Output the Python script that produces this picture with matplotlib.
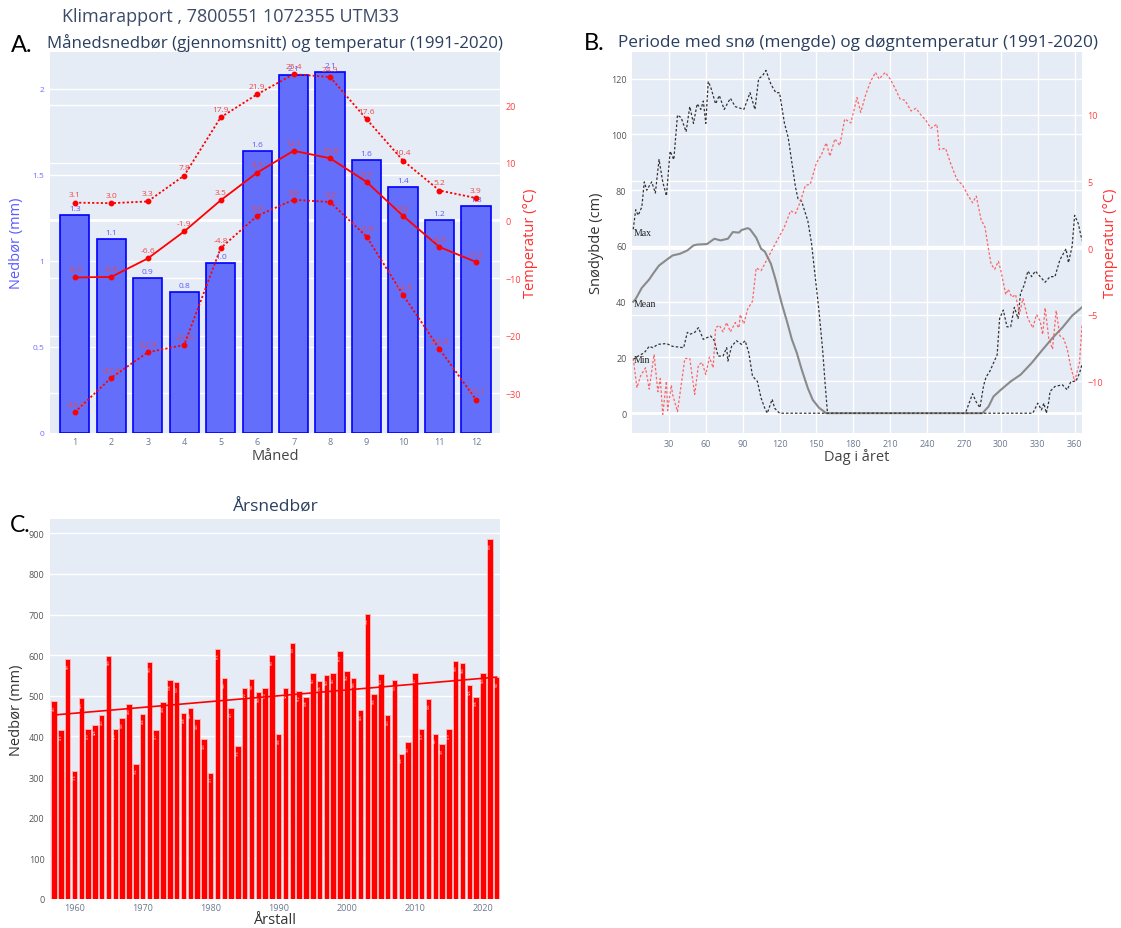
import matplotlib.pyplot as plt
from matplotlib.transforms import blended_transform_factory
import numpy as np

plt.rcParams['font.family'] = ['Open Sans', 'DejaVu Sans']

# ---- A: månedsnedbør og temperatur (1991-2020) ----
maaned = list(range(1, 13))
nedbor_mnd = [1.27, 1.13, 0.90, 0.82, 0.99, 1.64, 2.08, 2.10, 1.59, 1.43, 1.24, 1.32]
temp_snitt = [-9.9, -9.8, -6.6, -1.9, 3.5, 8.3, 12.1, 10.8, 6.7, 0.8, -4.6, -7.2]
temp_maks = [3.1, 3.0, 3.3, 7.8, 17.9, 21.9, 25.4, 24.9, 17.6, 10.4, 5.2, 3.9]
temp_min = [-33.3, -27.3, -22.9, -21.6, -4.8, 0.8, 3.6, 3.2, -2.8, -12.9, -22.3, -31.1]

# ---- B: snødybde (dag, cm) og døgntemperatur (dag, grader) ----
sno_maks = [(1, 66), (3, 73), (5, 71), (8, 74), (10, 83), (12, 80), (16, 83), (19, 79),
            (22, 91), (25, 83), (28, 78), (31, 94), (34, 91), (37, 107), (40, 106), (44, 101),
            (47, 110), (50, 104), (53, 111), (56, 109), (58, 112), (60, 104), (62, 119),
            (64, 117), (68, 111), (71, 114), (75, 109), (80, 113), (84, 110), (91, 109),
            (96, 115), (100, 109), (103, 120), (106, 121), (109, 123), (113, 118), (117, 115),
            (120, 115), (124, 104), (127, 99), (130, 90), (133, 81), (135, 77), (138, 76),
            (143, 69), (146, 61), (150, 45), (152, 37), (155, 23), (157, 11), (159, 0),
            (271, 0), (272, 1), (277, 7), (280, 4), (283, 2), (286, 10), (288, 13), (291, 15),
            (294, 18), (297, 21), (299, 34), (302, 37), (305, 31), (308, 31), (311, 38),
            (314, 34), (316, 43), (319, 46), (322, 51), (325, 49), (328, 51), (332, 49),
            (336, 47), (340, 49), (344, 49), (348, 55), (353, 59), (355, 54), (358, 60),
            (360, 71), (363, 68), (366, 62)]
sno_snitt = [(1, 40), (3, 41), (8, 45), (14, 48), (18, 50.6), (22, 53), (28, 55), (33, 56.6),
             (39, 57.2), (45, 58.4), (50, 60.2), (53, 60.5), (61, 60.7), (67, 62.6), (72, 62),
             (78, 62.6), (82, 65), (87, 64.8), (89, 65.7), (94, 66.4), (96, 66), (101, 63),
             (105, 59), (108, 58), (113, 53.6), (117, 47.6), (122, 39), (126, 33), (130, 26.5),
             (134, 21.7), (138, 15.7), (143, 9), (147, 4.8), (152, 2), (158, 0), (285, 0),
             (290, 2.4), (294, 6), (300, 8.4), (308, 11.4), (316, 13.8), (325, 18), (333, 22.3),
             (342, 27), (350, 30.7), (358, 35), (366, 38)]
sno_min = [(1, 19.3), (5, 20.5), (10, 21.7), (14, 24), (17, 23.5), (21, 24.7), (28, 25),
           (33, 24), (42, 23.5), (45, 29), (47, 28.3), (51, 29), (54, 30.7), (58, 26.5),
           (64, 27.7), (67, 26), (70, 20.5), (74, 20.5), (77, 23.5), (78, 18.7), (81, 24),
           (85, 26), (89, 24.7), (92, 26), (95, 21.7), (98, 13.3), (102, 11.4), (105, 5.4),
           (108, 1.8), (110, 0), (114, 5), (116, 1.8), (120, 0), (326, 0), (330, 3.6),
           (333, 1.2), (335, 3.6), (337, 0), (339, 4.2), (340, 7.8), (344, 9.6), (350, 10.2),
           (354, 8.4), (357, 11.4), (361, 11.4), (364, 14.4), (366, 17.5)]
dogn_temp = [(1, -8.3), (4, -10.5), (7, -9.6), (11, -9), (14, -10.6), (17, -8.6), (18, -8),
             (21, -10.8), (23, -9.8), (25, -12.5), (28, -10), (29, -12.2), (32, -10.3),
             (33, -11), (37, -12.3), (40, -10.3), (43, -8.3), (47, -8.3), (51, -11), (54, -8.8),
             (57, -8.6), (60, -9.5), (63, -8.2), (66, -9), (68, -6), (71, -5.8), (74, -6.3),
             (77, -5.6), (80, -6.3), (84, -5.6), (87, -6), (88, -5), (91, -5.7), (94, -4.6),
             (98, -4), (101, -1.5), (105, -1.7), (109, -1), (113, -0.3), (117, 0.4), (120, 0.9),
             (124, 1.6), (129, 2.8), (133, 2.6), (137, 3.5), (141, 4.7), (145, 4.8), (150, 6.4),
             (154, 7), (158, 7.9), (161, 6.9), (165, 8.2), (169, 7.7), (173, 9.7), (178, 9.4),
             (183, 11.3), (186, 10.2), (190, 11.5), (194, 12.5), (198, 13.2), (201, 12.7),
             (206, 13.2), (210, 12.7), (214, 12), (218, 11.2), (222, 11.1), (227, 10.3),
             (231, 10.5), (235, 10), (239, 9.6), (243, 9), (248, 9.3), (250, 7.4), (255, 7.5),
             (259, 6.4), (264, 5.2), (269, 4.7), (273, 4), (277, 3.4), (280, 3.9), (284, 2.1),
             (287, 1.6), (290, -0.1), (292, -1.2), (295, -1.6), (298, -1), (300, -1.7),
             (304, -3.5), (306, -3.1), (309, -3.7), (312, -3.5), (315, -5), (318, -3.8),
             (322, -5.3), (326, -6), (329, -5), (332, -5.5), (334, -6.5), (336, -4.5),
             (339, -6.8), (342, -7.6), (345, -4.7), (348, -6.6), (351, -6.8), (354, -7.6),
             (357, -9), (360, -10), (362, -9.3), (364, -8.6), (366, -5.8)]

# ---- C: årsnedbør ----
aar = list(range(1957, 2023))
aarsnedbor = [487, 415, 591, 316, 495, 419, 428, 453, 599, 419,
              445, 480, 332, 456, 583, 417, 484, 538, 533, 458,
              469, 443, 393, 311, 616, 543, 471, 376, 520, 541,
              509, 520, 601, 406, 520, 631, 512, 498, 557, 536,
              550, 557, 610, 562, 545, 465, 702, 505, 553, 453,
              539, 358, 387, 557, 419, 492, 407, 381, 419, 585,
              580, 526, 498, 555, 886, 547]

W, H = 1121, 929
BG = '#e5ecf6'
TITLE = '#2a3f5f'
RED = '#ff0000'
DOT = (0, (1.2, 1.2))

fig = plt.figure(figsize=(W / 100, H / 100), dpi=100)


def px_axes(l, t, r, b):
    return fig.add_axes([l / W, 1 - b / H, (r - l) / W, (b - t) / H])


def ftext(x, y, s, **kw):
    fig.text(x / W, 1 - y / H, s, **kw)


def clean(ax):
    for s in ax.spines.values():
        s.set_visible(False)
    ax.tick_params(length=0)


def hgrid(ax, src, vals):
    tr = blended_transform_factory(ax.transAxes, src.transData)
    for v in vals:
        ax.plot([0, 1], [v, v], transform=tr, color='white', lw=2 if v == 0 else 1, zorder=0.5)


def minus(vals):
    return [str(v).replace('-', '\u2212') for v in vals]


# header texts
ftext(62, 17, 'Klimarapport , 7800551 1072355 UTM33', fontsize=13, color='#3b4a66', va='center')
ftext(11, 45, 'A.', fontsize=17, family=['Lato', 'DejaVu Sans'], va='center')
ftext(47, 43, 'Månedsnedbør (gjennomsnitt) og temperatur (1991-2020)', fontsize=12.2, color=TITLE, va='center')
ftext(584, 43, 'B.', fontsize=17, family=['Lato', 'DejaVu Sans'], va='center')
ftext(618, 43, 'Periode med snø (mengde) og døgntemperatur (1991-2020)', fontsize=12.4, color=TITLE, va='center')
ftext(10, 526, 'C.', fontsize=16.5, family=['Lato', 'DejaVu Sans'], va='center')
ftext(276, 508, 'Årsnedbør', fontsize=12.5, color=TITLE, va='center', ha='center')

# ---------------- A ----------------
axA = px_axes(50, 53, 500, 434)
axA.set_facecolor(BG)
clean(axA)
axA.set_xlim(0.32, 12.66)
axA.set_ylim(0, 2.215)
axA2 = axA.twinx()
clean(axA2)
axA2.set_ylim(-36.9, 29.25)
hgrid(axA, axA, [0.5, 1, 1.5, 2])
hgrid(axA, axA2, [-30, -20, -10, 0, 10, 20])

axA.bar(maaned, nedbor_mnd, width=0.8, color='#636efa', edgecolor='#0000ff', lw=1.2, zorder=2)
for m, v in zip(maaned, nedbor_mnd):
    axA.annotate(f'{v:.1f}', (m, v), xytext=(0, 2), textcoords='offset points',
                 ha='center', va='bottom', fontsize=6, color='#5a5aff')

for serie, ls in [(temp_maks, DOT), (temp_snitt, '-'), (temp_min, DOT)]:
    axA2.plot(maaned, serie, color=RED, ls=ls, lw=1.3, marker='o', ms=3.2, zorder=3)
    for m, v in zip(maaned, serie):
        axA2.annotate(f'{v:.1f}', (m, v), xytext=(0, 3), textcoords='offset points',
                      ha='center', va='bottom', fontsize=6, color='#f04848')

axA.set_xticks(maaned, [str(m) for m in maaned], fontsize=6.5, color='#6a7890')
axA.set_yticks([0, 0.5, 1, 1.5, 2], ['0', '0.5', '1', '1.5', '2'], fontsize=6, color='#6f6fff')
axA.tick_params(axis='x', pad=3)
axA.tick_params(axis='y', pad=4)
axA2.set_yticks([-30, -20, -10, 0, 10, 20], minus([-30, -20, -10, 0, 10, 20]), fontsize=6.5, color='#ff4040')
axA2.tick_params(axis='y', pad=4)

ftext(17, 243, 'Nedbør (mm)', rotation=90, fontsize=10.5, color='#5a5aff', ha='center', va='center')
ftext(530, 243, 'Temperatur (°C)', rotation=90, fontsize=10.5, color='#ff3030', ha='center', va='center')
ftext(275, 457, 'Måned', fontsize=10.5, color='#444444', ha='center', va='center')

# ---------------- B ----------------
axB = px_axes(632, 53, 1082, 434)
axB.set_facecolor(BG)
clean(axB)
axB.set_xlim(0, 366)
axB.set_ylim(-7.1, 129.6)
axB2 = axB.twinx()
clean(axB2)
axB2.set_ylim(-13.9, 14.73)
dager = list(range(30, 361, 30))
for d in dager:
    axB.axvline(d, color='white', lw=1, zorder=0.5)
hgrid(axB, axB, [0, 20, 40, 60, 80, 100, 120])
hgrid(axB, axB2, [-10, -5, 0, 5, 10])

for pts, col, ls, lw in [(sno_maks, '#333333', (0, (2, 1.6)), 0.9),
                         (sno_snitt, '#8a8a8a', '-', 1.5),
                         (sno_min, '#333333', (0, (2, 1.6)), 0.9)]:
    d, v = zip(*pts)
    axB.plot(d, v, color=col, ls=ls, lw=lw, zorder=2)
d, v = zip(*dogn_temp)
axB2.plot(d, v, color='#ff4d4d', ls=(0, (2, 1.6)), lw=0.9, alpha=0.85, zorder=2)

for lab, y in [('Max', 65), ('Mean', 39.2), ('Min', 19.4)]:
    axB.text(1.5, y, lab, fontsize=7, family=['Liberation Serif', 'DejaVu Serif'],
             va='center', ha='left', color='#222222')

axB.set_xticks(dager, [str(d) for d in dager], fontsize=6.5, color='#6a7890')
axB.set_yticks([0, 20, 40, 60, 80, 100, 120], ['0', '20', '40', '60', '80', '100', '120'],
               fontsize=6.5, color='#555555')
axB.tick_params(axis='x', pad=4)
axB.tick_params(axis='y', pad=4)
axB2.set_yticks([-10, -5, 0, 5, 10], minus([-10, -5, 0, 5, 10]), fontsize=6.5, color='#ff4040')
axB2.tick_params(axis='y', pad=4)

ftext(597, 243, 'Snødybde (cm)', rotation=90, fontsize=10.5, color='#333333', ha='center', va='center')
ftext(1110, 243, 'Temperatur (°C)', rotation=90, fontsize=10.5, color='#ff3030', ha='center', va='center')
ftext(857, 457, 'Dag i året', fontsize=10.5, color='#444444', ha='center', va='center')

# ---------------- C ----------------
axC = px_axes(50, 520, 500, 900)
axC.set_facecolor(BG)
clean(axC)
axC.set_xlim(1956.4, 2022.5)
axC.set_ylim(0, 935)
hgrid(axC, axC, [100, 200, 300, 400, 500, 600, 700, 800, 900])
axC.bar(aar, aarsnedbor, width=0.8, color=RED, edgecolor='#ffb0b0', lw=0.7, zorder=2)
for a, v in zip(aar, aarsnedbor):
    axC.text(a, v - 8, str(v), rotation=90, fontsize=2.3, color='white', ha='center', va='top', zorder=3)

k, m0 = np.polyfit(aar, aarsnedbor, 1)
ends = np.array([aar[0], aar[-1]])
axC.plot(ends, k * ends + m0, color=RED, lw=1.2, zorder=3)

yt = list(range(0, 901, 100))
axC.set_yticks(yt, [str(v) for v in yt], fontsize=6.5, color='#555555')
xt = list(range(1960, 2021, 10))
axC.set_xticks(xt, [str(v) for v in xt], fontsize=6.5, color='#6a7890')
axC.tick_params(axis='x', pad=3)
axC.tick_params(axis='y', pad=4)

ftext(17, 710, 'Nedbør (mm)', rotation=90, fontsize=10.5, color='#333333', ha='center', va='center')
ftext(275, 921, 'Årstall', fontsize=10.5, color='#333333', ha='center', va='center')

fig.savefig('out.png', dpi=100, facecolor='white')
